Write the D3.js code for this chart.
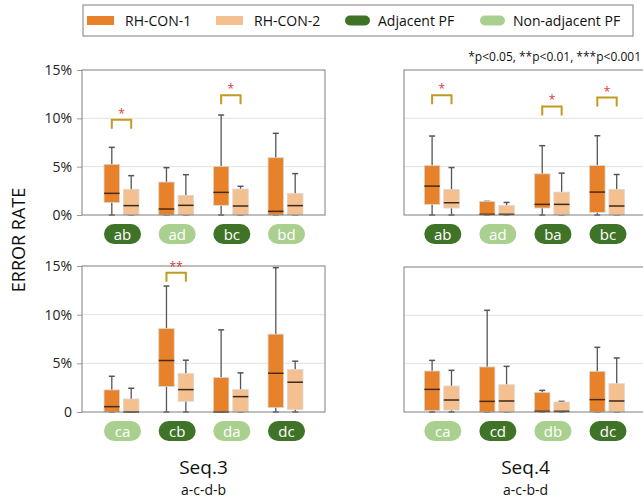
<!DOCTYPE html>
<html><head><meta charset="utf-8">
<script src="https://cdn.jsdelivr.net/npm/d3@7"></script>
<style>
body{margin:0;background:#fff;}
svg{display:block;font-family:"Open Sans","Noto Sans",sans-serif;}
</style></head>
<body><svg id="c" width="643" height="502"></svg>
<script>
// ---------- data ----------
const seriesNames = ["RH-CON-1", "RH-CON-2"];
const pairTypes = ["Adjacent PF", "Non-adjacent PF"];
const tickValues = [0, 5, 10, 15];
const tickLabelsTop = ["0%", "5%", "10%", "15%"];
const tickLabelsBottom = ["0", "5%", "10%", "15%"];
const seqTitles = ["Seq.3", "Seq.4"];
const seqOrders = ["a-c-d-b", "a-c-b-d"];
const sigNote = "*p<0.05, **p<0.01, ***p<0.001";

// boxes: [whiskerLow, q1, median, q3, whiskerHigh] in %
const tlCats = ["ab", "ad", "bc", "bd"];
const tlAdjacent = [true, false, true, false];
const tlCon1 = [[0,1.28,2.24,5.24,7.0],[0,0,0.62,3.41,4.9],[0,1.0,2.34,5.03,10.34],[0,0,0.38,5.93,8.45]];
const tlCon2 = [[0,0,0.97,2.66,4.07],[0,0,1.0,2.03,4.17],[0,0,0.93,2.69,2.97],[0,0,0.97,2.24,4.28]];
const tlSig = ["*", null, "*", null];
const tlSigLevel = [9.86, null, 12.38, null];

const trCats = ["ab", "ad", "ba", "bc"];
const trAdjacent = [true, false, true, true];
const trCon1 = [[0,1.1,2.99,5.11,8.17],[0,0,0.07,1.41,1.41],[0,0.72,1.1,4.26,7.17],[0,0.27,2.37,5.11,8.2]];
const trCon2 = [[0,0.72,1.27,2.64,4.91],[0,0,0.07,1.0,1.3],[0,0,1.1,2.37,4.33],[0,0,0.93,2.64,4.19]];
const trSig = ["*", null, "*", "*"];
const trSigLevel = [12.39, null, 11.23, 12.15];

const blCats = ["ca", "cb", "da", "dc"];
const blAdjacent = [false, true, false, true];
const blCon1 = [[0,0,0.55,2.27,3.67],[0,2.61,5.29,8.58,12.94],[0,0,0,3.54,8.44],[0,0.45,3.98,8.0,14.83]];
const blCon2 = [[0,0,0,1.34,2.44],[0,1.1,2.3,3.95,5.32],[0,0,1.58,2.3,4.02],[0,0.27,3.06,4.36,5.22]];
const blSig = [null, "**", null, null];
const blSigLevel = [null, 14.3, null, null];

const brCats = ["ca", "cd", "db", "dc"];
const brAdjacent = [false, true, false, true];
const brCon1 = [[0,0.14,2.34,4.24,5.34],[0,0,1.1,4.66,10.52],[0,0,0.07,2.03,2.24],[0,0,1.28,4.21,6.69]];
const brCon2 = [[0,0.2,1.24,2.69,4.31],[0,0,1.14,2.83,4.72],[0,0,0.07,1.03,1.1],[0,0,1.14,2.93,5.59]];
const brSig = [null, null, null, null];
const brSigLevel = [null, null, null, null];

// ---------- style ----------
const C1 = "#e8822a", C2 = "#f4c08f", GDark = "#3f7428", GLight = "#a9d08e";
const svg = d3.select("#c");

const panels = [
  {cats: tlCats, adj: tlAdjacent, s1: tlCon1, s2: tlCon2, sig: tlSig, lvl: tlSigLevel, x0: 82, x1: 325, y0: 70, y1: 215, gx: [121.5, 285.5], labels: tickLabelsTop, showY: true},
  {cats: trCats, adj: trAdjacent, s1: trCon1, s2: trCon2, sig: trSig, lvl: trSigLevel, x0: 404, x1: 647, y0: 70, y1: 215, gx: [441.8, 607], labels: tickLabelsTop, showY: false},
  {cats: blCats, adj: blAdjacent, s1: blCon1, s2: blCon2, sig: blSig, lvl: blSigLevel, x0: 82, x1: 325, y0: 266, y1: 412, gx: [121.5, 285.5], labels: tickLabelsBottom, showY: true},
  {cats: brCats, adj: brAdjacent, s1: brCon1, s2: brCon2, sig: brSig, lvl: brSigLevel, x0: 404, x1: 647, y0: 267, y1: 412, gx: [441.8, 607], labels: tickLabelsBottom, showY: false}
];

const boxW = 15.5, off = 9.7;

panels.forEach(p => {
  const y = d3.scaleLinear().domain([0, 15]).range([p.y1, p.y0]);
  const x = d3.scalePoint().domain(p.cats).range(p.gx);
  const g = svg.append("g");
  // gridlines
  g.selectAll(".grid").data([5, 10]).join("line")
    .attr("x1", p.x0).attr("x2", p.x1).attr("y1", d => y(d)).attr("y2", d => y(d))
    .attr("stroke", "#e2e2e2").attr("stroke-width", 1);
  // y axis
  if (p.showY) {
    const ax = d3.axisLeft(y).tickValues(tickValues).tickSize(5).tickPadding(5)
      .tickFormat((d, i) => p.labels[i]);
    const axg = g.append("g").attr("transform", `translate(${p.x0},0)`).call(ax);
    axg.select(".domain").remove();
    axg.selectAll(".tick line").attr("stroke", "#999");
    axg.selectAll(".tick text").attr("font-size", 14).attr("fill", "#222")
      .attr("font-family", "Open Sans");
  }
  // boxes
  [p.s1, p.s2].forEach((ser, si) => {
    const color = si === 0 ? C1 : C2;
    const dx = si === 0 ? -off : off;
    ser.forEach((b, i) => {
      const cx = x(p.cats[i]) + dx;
      const bg = g.append("g");
      bg.append("line").attr("x1", cx).attr("x2", cx).attr("y1", y(b[0])).attr("y2", y(b[4]))
        .attr("stroke", "#555").attr("stroke-width", 1.3);
      [b[0], b[4]].forEach(v => bg.append("line").attr("x1", cx - 3).attr("x2", cx + 3)
        .attr("y1", y(v)).attr("y2", y(v)).attr("stroke", "#555").attr("stroke-width", 1.5));
      bg.append("rect").attr("x", cx - boxW / 2).attr("width", boxW)
        .attr("y", y(b[3])).attr("height", Math.max(0, y(b[1]) - y(b[3])))
        .attr("fill", color).attr("stroke", "#d8d8d8").attr("stroke-width", 0.8);
      bg.append("line").attr("x1", cx - boxW / 2).attr("x2", cx + boxW / 2)
        .attr("y1", y(b[2])).attr("y2", y(b[2]))
        .attr("stroke", si === 0 ? "#4a2a10" : "#3a2a1a").attr("stroke-width", 1.5);
    });
  });
  // frame
  g.append("rect").attr("x", p.x0).attr("y", p.y0).attr("width", p.x1 - p.x0).attr("height", p.y1 - p.y0)
    .attr("fill", "none").attr("stroke", "#7f7f7f").attr("stroke-width", 1);
  // significance
  p.sig.forEach((s, i) => {
    if (!s) return;
    const cx = x(p.cats[i]);
    const yt = y(p.lvl[i]);
    g.append("path").attr("d", `M${cx - off},${yt + 9}V${yt}H${cx + off}V${yt + 9}`)
      .attr("fill", "none").attr("stroke", "#c49a1e").attr("stroke-width", 2);
    g.append("text").attr("x", cx).attr("y", yt - 2).attr("text-anchor", "middle")
      .attr("font-size", 12).attr("fill", "#e03a3a").text(s);
  });
  // category pills
  const py = p.y1 + 19;
  p.cats.forEach((c, i) => {
    const cx = x(c) + 1;
    g.append("rect").attr("x", cx - 18.5).attr("y", py - 10).attr("width", 37).attr("height", 20)
      .attr("rx", 10).attr("fill", p.adj[i] ? GDark : GLight);
    g.append("text").attr("x", cx).attr("y", py + 5.5).attr("text-anchor", "middle")
      .attr("font-size", 15).attr("fill", "#fff").text(c);
  });
});

// y axis title
svg.append("text").attr("transform", "translate(25,240) rotate(-90)")
  .attr("text-anchor", "middle").attr("font-size", 18).attr("fill", "#111").text("ERROR RATE");

// seq titles
[203.5, 525.5].forEach((cx, i) => {
  svg.append("text").attr("x", cx).attr("y", 474).attr("text-anchor", "middle")
    .attr("font-size", 19).attr("fill", "#111").text(seqTitles[i]);
  svg.append("text").attr("x", cx).attr("y", 495).attr("text-anchor", "middle")
    .attr("font-size", 14).attr("fill", "#111").text(seqOrders[i]);
});

// significance note
svg.append("text").attr("x", 641).attr("y", 61).attr("text-anchor", "end")
  .attr("font-size", 12).attr("fill", "#111").text(sigNote);

// legend
const lg = svg.append("g");
lg.append("rect").attr("x", 83).attr("y", 5).attr("width", 550).attr("height", 31)
  .attr("fill", "#fff").attr("stroke", "#7f7f7f");
const legItems = [
  {name: seriesNames[0], color: C1, shape: "rect", sx: 87, tx: 125},
  {name: seriesNames[1], color: C2, shape: "rect", sx: 216, tx: 254},
  {name: pairTypes[0], color: GDark, shape: "pill", sx: 345, tx: 378},
  {name: pairTypes[1], color: GLight, shape: "pill", sx: 480, tx: 513}
];
legItems.forEach(it => {
  if (it.shape === "rect") {
    lg.append("rect").attr("x", it.sx).attr("y", 16).attr("width", 27).attr("height", 9).attr("fill", it.color);
  } else {
    lg.append("rect").attr("x", it.sx).attr("y", 15.5).attr("width", 25).attr("height", 10).attr("rx", 5).attr("fill", it.color);
  }
  lg.append("text").attr("x", it.tx).attr("y", 25.5).attr("font-size", 14).attr("fill", "#111").text(it.name);
});
</script></body></html>
